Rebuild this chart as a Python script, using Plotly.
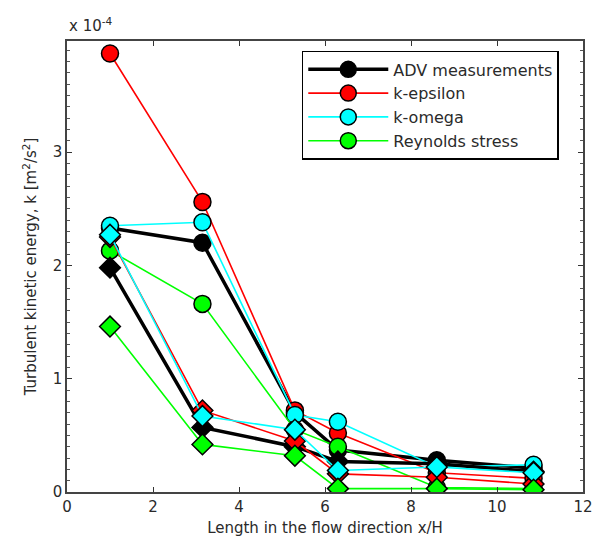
import plotly.graph_objects as go

# x/H positions
x_pos = [1.0, 3.15, 5.3, 6.3, 8.6, 10.85]

# Turbulent kinetic energy values in units of 1e-4 m^2/s^2
adv_circ = [2.33, 2.20, 0.70, 0.37, 0.28, 0.21]
adv_diam = [1.98, 0.57, 0.40, 0.27, 0.25, 0.18]
keps_circ = [3.87, 2.56, 0.72, 0.52, 0.17, 0.12]
keps_diam = [2.25, 0.72, 0.45, 0.16, 0.13, 0.07]
kome_circ = [2.35, 2.38, 0.68, 0.62, 0.22, 0.24]
kome_diam = [2.27, 0.67, 0.55, 0.19, 0.22, 0.17]
rey_circ = [2.13, 1.66, 0.55, 0.40, 0.04, 0.03]
rey_diam = [1.46, 0.42, 0.32, 0.03, 0.03, 0.02]

names = ["ADV measurements", "k-epsilon", "k-omega", "Reynolds stress"]
colors = ["#000000", "#ff0000", "#00ffff", "#00ff00"]
widths = [3.5, 1.6, 1.6, 1.6]
circ_sets = [adv_circ, keps_circ, kome_circ, rey_circ]
diam_sets = [adv_diam, keps_diam, kome_diam, rey_diam]

fig = go.Figure()

for name, c, w, yc in zip(names, colors, widths, circ_sets):
    fig.add_trace(go.Scatter(
        x=x_pos, y=yc, mode="lines+markers", showlegend=True,
        line=dict(color=c, width=w),
        marker=dict(symbol="circle", size=17, color=c,
                    line=dict(color="#000000", width=1.5)),
        name=name))

for name, c, w, yd in zip(names, colors, widths, diam_sets):
    fig.add_trace(go.Scatter(
        x=x_pos, y=yd, mode="lines+markers", showlegend=False,
        line=dict(color=c, width=w),
        marker=dict(symbol="diamond", size=16, color=c,
                    line=dict(color="#000000", width=1.5)),
        name=name))

fam = "DejaVu Sans, Liberation Sans, Arial, sans-serif"
axis_font = dict(family=fam, size=15, color="#2a2a2a")

fig.update_layout(
    width=605, height=547,
    margin=dict(l=67, r=17, t=41, b=55),
    paper_bgcolor="white", plot_bgcolor="white",
    font=axis_font,
    xaxis=dict(range=[0, 12], tickvals=[0, 2, 4, 6, 8, 10, 12],
               ticks="inside", ticklen=5, tickcolor="#333333",
               showline=True, linecolor="#444444", linewidth=1.5, mirror="ticks",
               showgrid=False, zeroline=False,
               title=dict(text="Length in the flow direction x/H", font=axis_font, standoff=8),
               tickfont=axis_font),
    yaxis=dict(range=[0, 3.98], tickvals=[0, 1, 2, 3],
               ticks="inside", ticklen=5, tickcolor="#333333",
               minor=dict(dtick=0.1, ticks="inside", ticklen=3, tickcolor="#555555", showgrid=False),
               showline=True, linecolor="#444444", linewidth=1.5, mirror="ticks",
               showgrid=False, zeroline=False,
               title=dict(text="Turbulent kinetic energy, k [m<sup>2</sup>/s<sup>2</sup>]",
                          font=axis_font, standoff=12),
               tickfont=axis_font),
    legend=dict(x=0.455, y=0.978, xanchor="left", yanchor="top",
                bgcolor="white", bordercolor="#000000", borderwidth=1.5,
                font=dict(family=fam, size=16, color="#2a2a2a"),
                tracegroupgap=0, itemwidth=80),
)

fig.add_annotation(text="x 10<sup>-4</sup>", xref="paper", yref="paper",
                   x=0.0, y=1.0, xanchor="left", yanchor="bottom", yshift=4,
                   showarrow=False, font=axis_font)

fig.write_html("out.html")
